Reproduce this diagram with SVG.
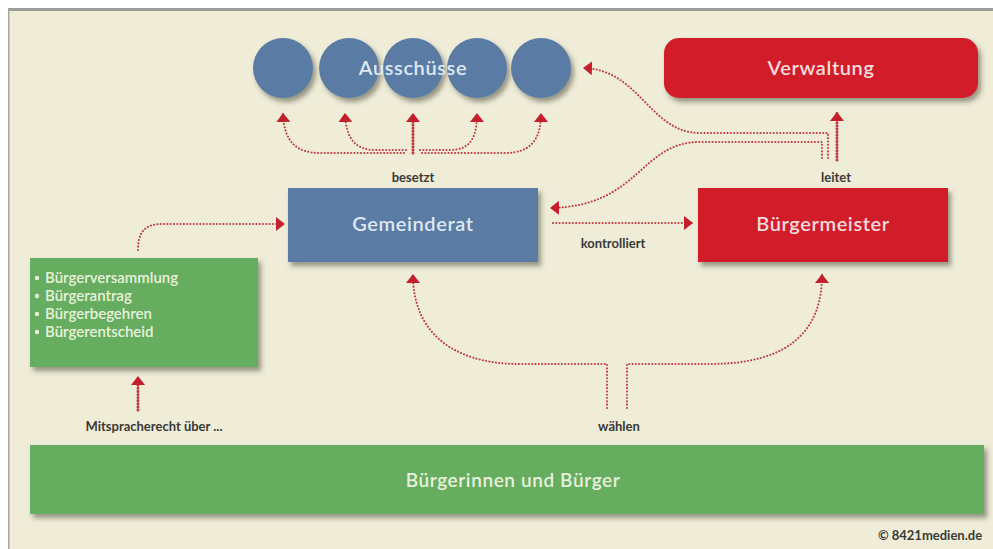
<svg xmlns="http://www.w3.org/2000/svg" width="993" height="549" viewBox="0 0 993 549">
<style>
.node-text{font-family:Lato,"Liberation Sans",sans-serif;font-weight:600;text-anchor:middle;letter-spacing:0.6px}
.lbl{font-family:Lato,"Liberation Sans",sans-serif;font-weight:700;fill:#3a3a36;text-anchor:middle;font-size:13px}
.dotarr{fill:none;stroke:#c23a40;stroke-width:2;stroke-dasharray:0.1 3.2;stroke-linecap:round;marker-end:url(#arr)}
.thick{fill:none;stroke:#c23a40;stroke-width:3;stroke-dasharray:0.1 3;stroke-linecap:round;marker-end:url(#arr)}
.blue{fill:#5a7ca4}
.red{fill:#d11f2b}
.green{fill:#66ad5f}
</style>
<defs>
<filter id="sh" x="-10%" y="-20%" width="130%" height="150%">
<feDropShadow dx="3" dy="4" stdDeviation="2.5" flood-color="#3a3a28" flood-opacity="0.5"/>
</filter>
<marker id="arr" viewBox="0 0 9 14" refX="8" refY="7" markerWidth="9" markerHeight="14" markerUnits="userSpaceOnUse" orient="auto">
<path d="M0,0 L9,7 L0,14 z" fill="#c41f2c"/>
</marker>
</defs>
<rect x="0" y="0" width="993" height="549" fill="#ffffff"/>
<rect x="8" y="8" width="985" height="541" fill="#efecd8"/>
<rect x="8" y="8" width="985" height="3" fill="#9c9c98"/>
<rect x="8" y="8" width="1.5" height="541" fill="#a8a8a0"/>

<g id="connectors">
  <!-- besetzt fan -->
  <path class="thick" d="M413 153 V114"/>
  <path class="dotarr" d="M404 153 H320 C295 153 284 140 283 114"/>
  <path class="dotarr" d="M406 150 H375 C355 150 346 138 345 114"/>
  <path class="dotarr" d="M420 150 H450 C470 150 477 138 477 114"/>
  <path class="dotarr" d="M422 153 H505 C530 153 541 140 541 114"/>
  <!-- leitet -->
  <path class="thick" d="M837 160 V113"/>
  <path class="dotarr" d="M828 158 V133 H700 C650 133 640 70 584 68"/>
  <path class="dotarr" d="M822 158 V142 H700 C640 142 640 206 551 208"/>
  <!-- kontrolliert -->
  <path class="dotarr" d="M553 223 H692"/>
  <!-- wählen -->
  <path class="dotarr" d="M607 408 V364 H520 C450 364 413 330 413 275"/>
  <path class="dotarr" d="M627 408 V364 H710 C790 364 822 330 822 275"/>
  <!-- Mitspracherecht -->
  <path class="thick" d="M138 410 V377"/>
  <!-- Bürgerbeteiligung -> Gemeinderat -->
  <path class="dotarr" d="M138 250 C138 232 145 224 162 224 H284"/>
</g>

<g id="ausschuesse">
  <g filter="url(#sh)">
    <circle class="blue" cx="283" cy="68" r="30"/>
    <circle class="blue" cx="349" cy="68" r="30"/>
    <circle class="blue" cx="413" cy="68" r="30"/>
    <circle class="blue" cx="477" cy="68" r="30"/>
    <circle class="blue" cx="541" cy="68" r="30"/>
  </g>
  <text class="node-text" x="413" y="75" font-size="20" fill="#dfe8f2">Ausschüsse</text>
</g>

<g id="verwaltung">
  <rect class="red" x="664" y="38" width="314" height="60" rx="15" filter="url(#sh)"/>
  <text class="node-text" x="821" y="75" font-size="20" fill="#f6dcdc">Verwaltung</text>
</g>

<g id="gemeinderat">
  <rect class="blue" x="288" y="188" width="250" height="74" filter="url(#sh)"/>
  <text class="node-text" x="413" y="231" font-size="20" fill="#dfe8f2">Gemeinderat</text>
</g>

<g id="buergermeister">
  <rect class="red" x="698" y="188" width="250" height="74" filter="url(#sh)"/>
  <text class="node-text" x="823" y="231" font-size="20" fill="#f6dcdc">Bürgermeister</text>
</g>

<g id="beteiligung">
  <rect class="green" x="30" y="258" width="228" height="109" filter="url(#sh)"/>
  <g font-family="Lato, 'Liberation Sans', sans-serif" font-weight="600" font-size="15" fill="#e6f2dc">
    <circle cx="37" cy="278" r="2.2" fill="#e6f2dc"/>
    <circle cx="37" cy="296" r="2.2" fill="#e6f2dc"/>
    <circle cx="37" cy="314" r="2.2" fill="#e6f2dc"/>
    <circle cx="37" cy="332" r="2.2" fill="#e6f2dc"/>
    <text x="45" y="283">Bürgerversammlung</text>
    <text x="45" y="301">Bürgerantrag</text>
    <text x="45" y="319">Bürgerbegehren</text>
    <text x="45" y="337">Bürgerentscheid</text>
  </g>
</g>

<g id="buerger">
  <rect class="green" x="30" y="445" width="954" height="69" filter="url(#sh)"/>
  <text class="node-text" x="513" y="487" font-size="19" fill="#e6f2dc">Bürgerinnen und Bürger</text>
</g>

<g id="labels">
  <text class="lbl" x="413" y="182">besetzt</text>
  <text class="lbl" x="836" y="182">leitet</text>
  <text class="lbl" x="613" y="248">kontrolliert</text>
  <text class="lbl" x="619" y="431">wählen</text>
  <text class="lbl" x="154" y="431">Mitspracherecht über ...</text>
  <text class="lbl" x="930" y="540" font-size="11">© 8421medien.de</text>
</g>
</svg>
